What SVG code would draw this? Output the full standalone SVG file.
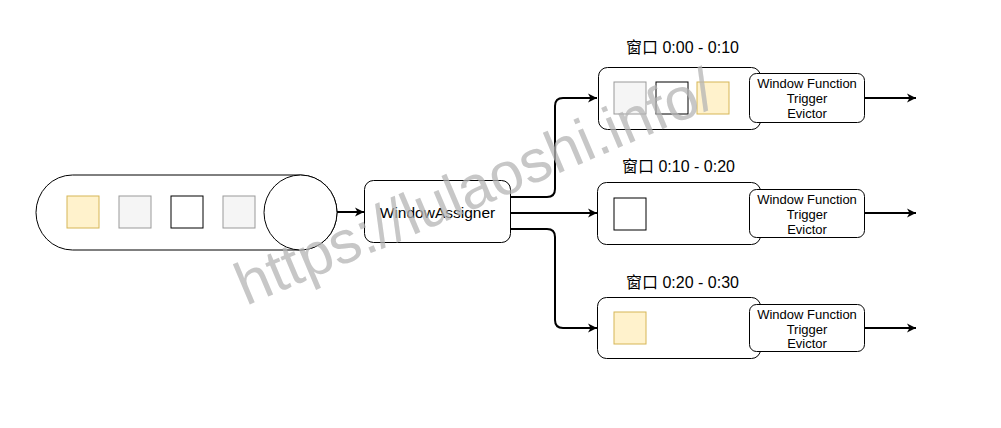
<svg xmlns="http://www.w3.org/2000/svg" width="1001" height="428" viewBox="0 0 1001 428">
<style>
.ln{fill:none;stroke:#000;stroke-width:2}
.bx{fill:#fff;stroke:#000;stroke-width:1}
.y{fill:#fff2cc;stroke:#d6b656;stroke-width:1}
.g{fill:#f5f5f5;stroke:#999;stroke-width:1}
.w{fill:#fff;stroke:#000;stroke-width:1}
.t{font-family:"Liberation Sans",Arial,sans-serif;fill:#000}
.lab{font-family:"Liberation Sans","Noto Sans CJK SC",sans-serif;font-size:16px;fill:#000}
.fn{font-family:"Liberation Sans",Arial,sans-serif;font-size:13px;fill:#000;text-anchor:middle}
</style>
<defs>
<marker id="ah" markerWidth="10" markerHeight="10" refX="9" refY="5" orient="auto" markerUnits="userSpaceOnUse">
<path d="M0,0.5 L9,5 L0,9.5 L2.5,5 Z" fill="#000"/>
</marker>
</defs>
<rect width="1001" height="428" fill="#fff"/>
<g id="queue">
<path class="bx" d="M300.5,175 L72.5,175 A36.5,37.5 0 0 0 72.5,250 L300.5,250 A36.5,37.5 0 0 0 300.5,175 Z"/>
<ellipse class="bx" cx="300.5" cy="212.5" rx="36.5" ry="37.5"/>
<rect class="y" x="67" y="196" width="32" height="32"/>
<rect class="g" x="119" y="196" width="32" height="32"/>
<rect class="w" x="171" y="196" width="32" height="32"/>
<rect class="g" x="223" y="196" width="32" height="32"/>
</g>
<g id="assigner">
<rect class="bx" x="364.5" y="180.5" width="146" height="62" rx="9"/>
<text class="t" x="437.5" y="218" font-size="15.5" text-anchor="middle">WindowAssigner</text>
</g>
<g id="window1">
<text class="lab" x="626" y="53">窗口 0:00 - 0:10</text>
<rect class="bx" x="598.5" y="67.5" width="162" height="62" rx="9"/>
<rect class="g" x="614" y="82" width="32" height="32"/>
<rect class="w" x="656" y="82" width="32" height="32"/>
<rect class="y" x="697" y="82" width="32" height="32"/>
<rect class="bx" x="749.5" y="73.5" width="115" height="49" rx="7"/>
<text class="fn" x="807" y="88">Window Function</text>
<text class="fn" x="807" y="103">Trigger</text>
<text class="fn" x="807" y="117.5">Evictor</text>
</g>
<g id="window2">
<text class="lab" x="622" y="171.5">窗口 0:10 - 0:20</text>
<rect class="bx" x="597.5" y="182.5" width="163" height="62" rx="9"/>
<rect class="w" x="614" y="198" width="32" height="32"/>
<rect class="bx" x="749.5" y="189.5" width="115" height="48" rx="7"/>
<text class="fn" x="807" y="204">Window Function</text>
<text class="fn" x="807" y="219">Trigger</text>
<text class="fn" x="807" y="233.5">Evictor</text>
</g>
<g id="window3">
<text class="lab" x="626" y="287.5">窗口 0:20 - 0:30</text>
<rect class="bx" x="597.5" y="297.5" width="163" height="61" rx="9"/>
<rect class="y" x="614" y="312" width="32" height="32"/>
<rect class="bx" x="749.5" y="304.5" width="115" height="47" rx="7"/>
<text class="fn" x="807" y="318.5">Window Function</text>
<text class="fn" x="807" y="333.5">Trigger</text>
<text class="fn" x="807" y="348">Evictor</text>
</g>
<g id="connectors">
<path class="ln" d="M337,212 L364,212" marker-end="url(#ah)"/>
<path class="ln" d="M511,197 L547,197 Q555,197 555,189 L555,106 Q555,98 563,98 L597,98" marker-end="url(#ah)"/>
<path class="ln" d="M511,213 L597,213" marker-end="url(#ah)"/>
<path class="ln" d="M511,229 L547,229 Q555,229 555,237 L555,320 Q555,328 563,328 L597,328" marker-end="url(#ah)"/>
<path class="ln" d="M865,98 L916,98" marker-end="url(#ah)"/>
<path class="ln" d="M865,213 L916,213" marker-end="url(#ah)"/>
<path class="ln" d="M865,328 L916,328" marker-end="url(#ah)"/>
</g>
<g id="watermark">
<text x="246" y="306" transform="rotate(-23 246 306)" font-family="'Liberation Sans',Arial,sans-serif" font-size="60" fill="#b4b4b4" fill-opacity="0.75">https://lulaoshi.info/</text>
</g>
</svg>
